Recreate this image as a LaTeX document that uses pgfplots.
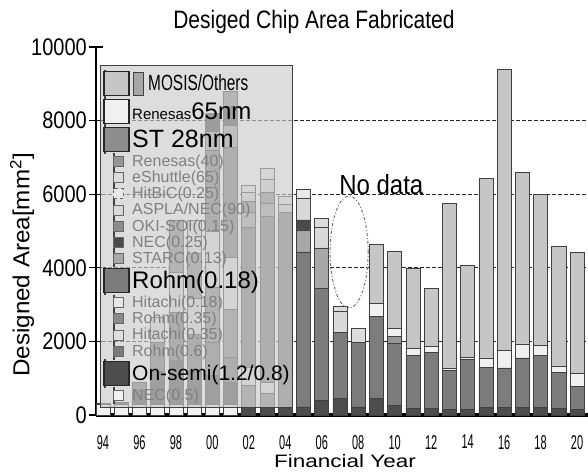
\documentclass[border=0pt]{standalone}
\usepackage{fontspec}
\setmainfont{Liberation Sans}
\usepackage{graphicx}
\usepackage{pgfplots}
\usepackage{pgfplotstable}
\pgfplotsset{compat=1.18}

\definecolor{c1}{HTML}{F2F2F2}
\definecolor{c2}{HTML}{4D4D4D}
\definecolor{c3}{HTML}{7A7A7A}
\definecolor{c4}{HTML}{E0E0E0}
\definecolor{c5}{HTML}{8A8A8A}
\definecolor{c6}{HTML}{E6E6E6}
\definecolor{c7}{HTML}{7C7C7C}
\definecolor{c8}{HTML}{A8A8A8}
\definecolor{c9}{HTML}{4A4A4A}
\definecolor{c10}{HTML}{8C8C8C}
\definecolor{c11}{HTML}{D9D9D9}
\definecolor{c12}{HTML}{E8E8E8}
\definecolor{c13}{HTML}{DCDCDC}
\definecolor{c14}{HTML}{969696}
\definecolor{c15}{HTML}{8E8E8E}
\definecolor{c16}{HTML}{F0F0F0}
\definecolor{c17}{HTML}{C6C6C6}
\definecolor{legbg}{HTML}{CBCBCB}

\pgfplotstableread{
x s1 s2 s3 s4 s5 s6 s7 s8 s9 s10 s11 s12 s13 s14 s15 s16 s17
0 280 50 0 0 0 0 0 0 0 0 0 0 0 0 0 0 0
1 280 70 0 0 0 0 0 0 0 0 0 0 0 0 0 0 0
2 280 400 220 0 0 0 0 0 0 0 0 0 0 0 0 0 0
3 280 900 800 670 0 0 0 0 0 0 0 0 0 0 0 0 0
4 280 1200 1300 1100 1420 0 0 0 0 0 0 0 0 0 0 0 0
5 280 900 1000 1000 1200 920 0 0 0 0 0 0 0 0 0 0 0
6 280 800 900 0 1500 1500 2200 520 500 0 0 0 0 0 0 0 0
7 280 600 700 0 1300 1400 3000 600 500 420 0 0 0 0 0 0 0
8 0 200 0 0 600 500 3800 400 0 300 250 200 0 0 0 0 0
9 0 200 0 0 400 300 4500 350 0 300 350 300 0 0 0 0 0
10 0 200 0 0 0 0 5320 0 0 0 200 230 0 0 0 0 0
11 0 220 0 0 0 0 4210 600 270 0 600 240 0 0 0 0 0
12 0 400 0 0 0 0 3050 1090 0 0 570 0 240 0 0 0 0
13 0 460 0 0 0 0 1790 0 0 0 560 0 150 0 0 0 0
14 0 220 0 0 0 0 1750 0 0 0 0 0 380 0 0 0 0
15 0 460 0 0 0 0 2230 0 0 0 0 0 0 0 0 350 1610
16 0 250 0 0 0 0 1700 0 0 0 0 0 0 190 0 220 2100
17 0 190 0 0 0 0 1440 0 0 0 0 0 0 0 0 190 2170
18 0 190 0 0 0 0 1500 0 0 0 0 0 0 0 0 170 1590
19 0 150 0 0 0 0 1070 0 0 0 0 0 0 0 0 60 4480
20 0 150 0 0 0 0 1370 0 0 0 0 0 0 0 0 50 2510
21 0 200 0 0 0 0 1100 0 0 0 0 0 0 0 0 250 4890
22 0 200 0 0 0 0 1080 0 0 0 0 0 0 0 0 470 7650
23 0 200 0 0 0 0 1350 0 0 0 0 0 0 0 0 380 4670
24 0 200 0 0 0 0 1430 0 0 0 0 0 0 0 0 270 4100
25 0 180 0 0 0 0 970 0 0 0 0 0 0 0 0 160 3260
26 0 150 0 0 0 0 620 0 0 0 0 0 0 0 0 370 3280
}\datatable

\pgfplotsset{
  layers/mylayers/.define layer set={axis background,axis grid,main,axis ticks,axis lines,axis tick labels,axis descriptions,axis foreground}{},
  bigsw/.style={legend image code/.code={\path (0pt,-13.6pt) rectangle (1pt,13.6pt); \draw[##1,fill opacity=1,draw=black!85,line width=1.2pt] (0pt,-12pt) rectangle (25pt,12pt);}},
  smallsw/.style={legend image code/.code={\path (9pt,-7.75pt) rectangle (10pt,7.75pt); \draw[##1,fill opacity=1,draw=black!60,line width=0.8pt] (9pt,-5pt) rectangle (19pt,5pt);}},
  smalldash/.style={legend image code/.code={\path (9pt,-7.75pt) rectangle (10pt,7.75pt); \draw[##1,fill opacity=1,draw=black!60,line width=0.8pt,dashed] (9pt,-5pt) rectangle (19pt,5pt);}},
  mosissw/.style={legend image code/.code={\path (0pt,-13.6pt) rectangle (1pt,13.6pt); \draw[##1,fill opacity=1,draw=black!85,line width=1.2pt] (0pt,-12pt) rectangle (25pt,12pt); \fill[overlay,fill=c17!85!black,fill opacity=1] (29pt,-12pt) rectangle (39pt,11pt);}},
  barsty/.style={draw=black!75, line width=0.7pt},
}
\newcommand\xl[1]{\scalebox{0.55}[1]{#1}}
% legend texts: zero height, lowered so the visual centre sits on the swatch centre
\newcommand\lt[2]{\smash{\raisebox{-#1}{#2}}}
\newcommand\sment[1]{\fontsize{16}{16}\selectfont\color{black!50}\lt{5.7pt}{#1}}

\begin{document}
\begin{tikzpicture}
\begin{axis}[
  set layers=mylayers,
  at={(0,0)}, anchor=south west,
  scale only axis, width=492pt, height=368pt,
  xmin=-0.38, xmax=26.6, ymin=0, ymax=10000,
  enlargelimits=false,
  axis lines*=left,
  x axis line style={line width=3.5pt, black},
  y axis line style={line width=1.2pt, black},
  ybar stacked, bar width=0.77,
  xtick={0,...,26},
  xticklabels={\xl{94},,\xl{96},,\xl{98},,\xl{00},,\xl{02},,\xl{04},,\xl{06},,\xl{08},,\xl{10},,\xl{12},,\xl{14},,\xl{16},,\xl{18},,\xl{20}},
  xtick style={draw=none},
  ytick={0,2000,...,10000},
  ytick style={black, line width=1.2pt},
  major tick length=14pt,
  tick align=center,
  extra y ticks={2000,4000,6000,8000},
  extra y tick labels={},
  extra y tick style={grid=major},
  major grid style={black!85, line width=1pt, dash pattern=on 3.5pt off 2.5pt},
  yticklabel={\scalebox{1}[1.2]{\pgfmathprintnumber{\tick}}},
  yticklabel style={font=\fontsize{20}{20}\selectfont, inner sep=0pt, xshift=-2pt},
  xticklabel style={inner sep=0pt, anchor=north, yshift=-13pt, font=\fontsize{20}{20}\selectfont},
  /pgf/number format/1000 sep={},
  /pgf/number format/assume math mode=true,
  scaled y ticks=false,
  title={\scalebox{1}[1.2]{Desiged Chip Area Fabricated}},
  title style={at={(0.443,1)}, anchor=base, yshift=12pt, font=\fontsize{21}{21}\selectfont, inner sep=0pt},
  xlabel={\scalebox{1.25}[1]{Financial Year}},
  xlabel style={at={(0.506,0)}, anchor=base, yshift=-52pt, font=\fontsize{18}{18}\selectfont, inner sep=0pt},
  ylabel={\scalebox{1.1}[1.05]{Designed Area[mm\textsuperscript{2}]}},
  ylabel style={at={(-0.150,0.408)}, anchor=center, font=\fontsize{22}{22}\selectfont, inner sep=0pt},
  reverse legend,
  legend cell align=left,
  legend style={at={(0.0081,0.951)}, anchor=north west, fill=legbg, fill opacity=0.65, draw=black!75, draw opacity=1, text opacity=1, line width=1pt, inner xsep=3pt, inner ysep=4pt, row sep=0pt, column sep=2.5pt, cells={anchor=west}, nodes={inner sep=0pt, text opacity=1}},
]
\addplot[barsty, fill=c1, smallsw] table[x=x,y=s1]{\datatable};
\addlegendentry{\sment{NEC(0.5)}}
\addplot[barsty, fill=c2, bigsw] table[x=x,y=s2]{\datatable};
\addlegendentry{\fontsize{21}{21}\selectfont\lt{7.5pt}{On-semi(1.2/0.8)}}
\addplot[barsty, fill=c3, smallsw] table[x=x,y=s3]{\datatable};
\addlegendentry{\sment{Rohm(0.6)}}
\addplot[barsty, fill=c4, smallsw] table[x=x,y=s4]{\datatable};
\addlegendentry{\sment{Hitachi(0.35)}}
\addplot[barsty, fill=c5, smallsw] table[x=x,y=s5]{\datatable};
\addlegendentry{\sment{Rohm(0.35)}}
\addplot[barsty, fill=c6, smallsw] table[x=x,y=s6]{\datatable};
\addlegendentry{\sment{Hitachi(0.18)}}
\addplot[barsty, fill=c7, bigsw] table[x=x,y=s7]{\datatable};
\addlegendentry{\fontsize{24}{24}\selectfont\lt{8.6pt}{Rohm(0.18)}}
\addplot[barsty, fill=c8, smallsw] table[x=x,y=s8]{\datatable};
\addlegendentry{\sment{STARC(0.13)}}
\addplot[barsty, fill=c9, smallsw] table[x=x,y=s9]{\datatable};
\addlegendentry{\sment{NEC(0.25)}}
\addplot[barsty, fill=c10, smallsw] table[x=x,y=s10]{\datatable};
\addlegendentry{\sment{OKI-SOI(0.15)}}
\addplot[barsty, fill=c11, smallsw] table[x=x,y=s11]{\datatable};
\addlegendentry{\sment{ASPLA/NEC(90)}}
\addplot[barsty, fill=c12, smalldash] table[x=x,y=s12]{\datatable};
\addlegendentry{\sment{HitBiC(0.25)}}
\addplot[barsty, fill=c13, smallsw] table[x=x,y=s13]{\datatable};
\addlegendentry{\sment{eShuttle(65)}}
\addplot[barsty, fill=c14, smallsw] table[x=x,y=s14]{\datatable};
\addlegendentry{\sment{Renesas(40)}}
\addplot[barsty, fill=c15, bigsw] table[x=x,y=s15]{\datatable};
\addlegendentry{\fontsize{25}{25}\selectfont\lt{9pt}{ST 28nm}}
\addplot[barsty, fill=c16, bigsw] table[x=x,y=s16]{\datatable};
\addlegendentry{\lt{8.6pt}{{\fontsize{15}{15}\selectfont Renesas}{\fontsize{24}{24}\selectfont 65nm}}}
\addplot[barsty, fill=c17, mosissw] table[x=x,y=s17]{\datatable};
\addlegendentry{\hspace*{16pt}\fontsize{22}{22}\selectfont\lt{7.9pt}{\scalebox{0.7}[1]{MOSIS/Others}}}

\draw[black!55, line width=1pt, dash pattern=on 3pt off 2pt on 1pt off 2pt] (axis cs:13.5,4430) ellipse [x radius=19pt, y radius=56pt];
\node[anchor=west, inner sep=0pt, font=\fontsize{24}{24}\selectfont] at (axis cs:12.95,6250) {\scalebox{1}[1.15]{No data}};
\end{axis}
\pgfresetboundingbox
\path (-96pt,-56pt) rectangle (492pt,415pt);
\end{tikzpicture}
\end{document}
